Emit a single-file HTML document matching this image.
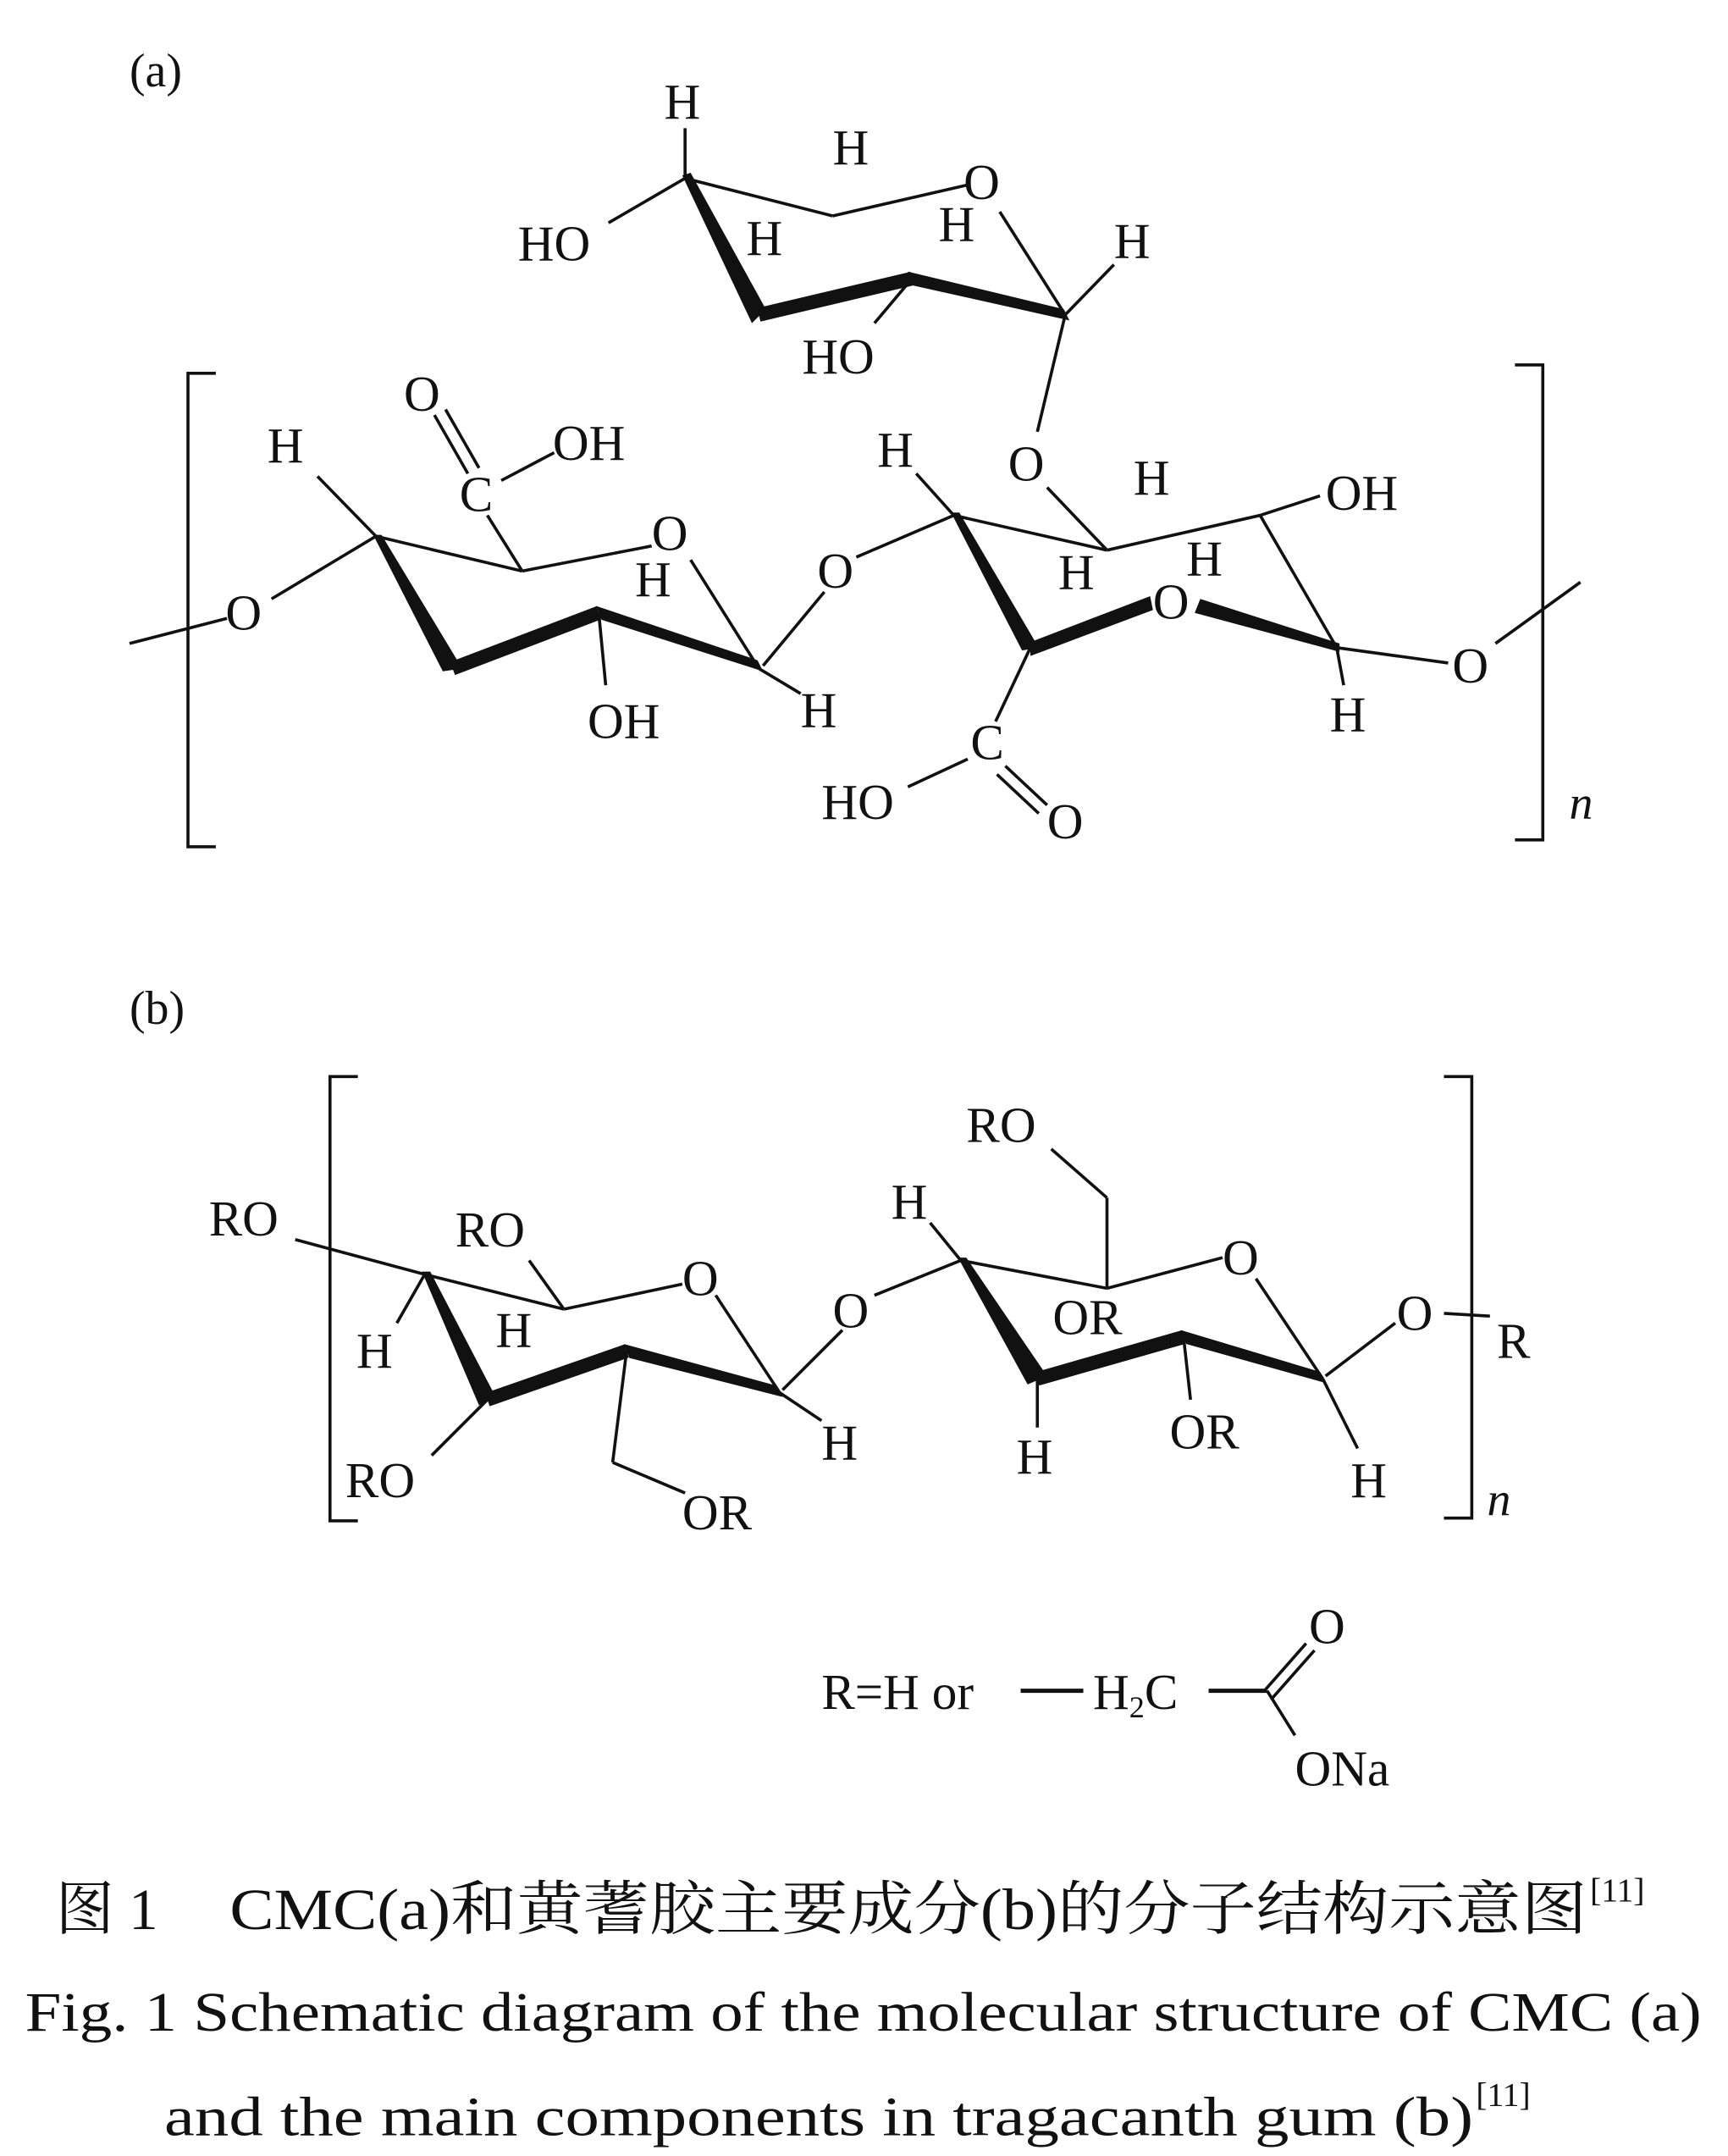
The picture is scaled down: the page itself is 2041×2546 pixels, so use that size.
<!DOCTYPE html>
<html><head><meta charset="utf-8"><style>
html,body{margin:0;padding:0;background:#fff}
svg{display:block}
text{font-family:"Liberation Serif","Noto Serif CJK SC",serif;fill:#111}
.a{font-size:36px}
line,polyline{stroke:#111;stroke-width:2.2;fill:none}
.t{stroke-width:10;stroke-linecap:butt}
</style></head><body>
<svg width="2041" height="2546" viewBox="0 0 1241 1548" xmlns="http://www.w3.org/2000/svg">
<text x="93" y="62" style="font-size:34px">(a)</text>
<!-- top ring -->
<g class="a">
<text x="477" y="85">H</text><text x="372" y="187">HO</text><text x="598" y="118">H</text>
<text x="692" y="143">O</text><text x="536" y="183">H</text><text x="674" y="173">H</text>
<text x="800" y="185">H</text><text x="576" y="268">HO</text>
</g>
<line x1="437" y1="160" x2="492" y2="128"/><line x1="492" y1="128" x2="492" y2="92"/>
<line x1="492" y1="128" x2="598" y2="155"/>
<line x1="598" y1="155" x2="694" y2="133"/>
<polygon points="490,126 496,124 550,222 540,232" fill="#111"/>
<line class="t" x1="545" y1="226" x2="655" y2="200"/>
<polygon points="652,195 656,205 768,230 764,222" fill="#111"/>
<line x1="765" y1="226" x2="718" y2="152"/>
<line x1="765" y1="226" x2="800" y2="190"/>
<line x1="765" y1="226" x2="745" y2="310"/>
<line x1="655" y1="200" x2="628" y2="232"/>
<!-- brackets (a) -->
<polyline points="155,268 135,268 135,608 155,608"/>
<polyline points="1088,262 1108,262 1108,603 1088,603"/>
<text x="1127" y="588" style="font-size:34px;font-style:italic">n</text>
<!-- left ring -->
<g class="a">
<text x="162" y="452">O</text><text x="192" y="332">H</text><text x="290" y="295">O</text>
<text x="330" y="367">C</text><text x="397" y="330">OH</text><text x="468" y="395">O</text>
<text x="456" y="428">H</text><text x="422" y="530">OH</text><text x="575" y="522">H</text>
<text x="587" y="422">O</text>
</g>
<line x1="93" y1="462" x2="163" y2="444"/>
<line x1="195" y1="430" x2="270" y2="385"/>
<line x1="270" y1="385" x2="228" y2="342"/>
<polygon points="268,384 274,384 332,480 318,482" fill="#111"/>
<line class="t" x1="325" y1="480" x2="430" y2="440"/>
<polygon points="428,435 432,445 548,482 544,474" fill="#111"/>
<line x1="545" y1="480" x2="496" y2="402"/>
<line x1="468" y1="392" x2="375" y2="410"/>
<line x1="375" y1="410" x2="270" y2="385"/>
<line x1="375" y1="410" x2="350" y2="370"/>
<line x1="360" y1="345" x2="398" y2="325"/>
<line x1="336" y1="340" x2="312" y2="298"/><line x1="344" y1="336" x2="320" y2="294"/>
<line x1="430" y1="440" x2="435" y2="492"/>
<line x1="545" y1="480" x2="575" y2="498"/>
<line x1="548" y1="478" x2="592" y2="425"/>
<line x1="615" y1="400" x2="685" y2="370"/>
<!-- right ring -->
<g class="a">
<text x="630" y="335">H</text><text x="724" y="345">O</text><text x="814" y="355">H</text>
<text x="952" y="366">OH</text><text x="760" y="423">H</text><text x="852" y="413">H</text>
<text x="828" y="444">O</text><text x="1043" y="490">O</text><text x="955" y="525">H</text>
<text x="697" y="545">C</text><text x="590" y="588">HO</text><text x="752" y="602">O</text>
</g>
<line x1="685" y1="370" x2="658" y2="340"/>
<polygon points="683,368 689,368 746,465 734,467" fill="#111"/>
<polygon points="740,461 740,471 828,438 826,428" fill="#111"/>
<polygon points="862,430 858,440 962,468 962,462" fill="#111"/>
<line x1="960" y1="465" x2="1040" y2="476"/>
<line x1="960" y1="465" x2="965" y2="492"/>
<line x1="960" y1="465" x2="905" y2="370"/>
<line x1="905" y1="370" x2="948" y2="356"/>
<line x1="905" y1="370" x2="795" y2="395"/>
<line x1="795" y1="395" x2="685" y2="370"/>
<line x1="795" y1="395" x2="752" y2="350"/>
<line x1="740" y1="465" x2="715" y2="518"/>
<line x1="695" y1="545" x2="652" y2="565"/>
<line x1="722" y1="550" x2="752" y2="578"/><line x1="716" y1="556" x2="746" y2="584"/>
<line x1="1074" y1="462" x2="1135" y2="418"/>
<!-- (b) -->
<text x="93" y="735" style="font-size:34px">(b)</text>
<polyline points="257,773 237,773 237,1092 257,1092"/>
<polyline points="1037,773 1057,773 1057,1090 1037,1090"/>
<text x="1068" y="1088" style="font-size:34px;font-style:italic">n</text>
<g class="a">
<text x="150" y="887">RO</text><text x="327" y="895">RO</text><text x="490" y="930">O</text>
<text x="256" y="982">H</text><text x="356" y="967">H</text><text x="248" y="1075">RO</text>
<text x="490" y="1098">OR</text><text x="590" y="1048">H</text><text x="598" y="953">O</text>
<text x="640" y="875">H</text><text x="694" y="820">RO</text><text x="878" y="915">O</text>
<text x="756" y="958">OR</text><text x="730" y="1058">H</text><text x="840" y="1040">OR</text>
<text x="970" y="1075">H</text><text x="1003" y="955">O</text><text x="1075" y="975">R</text>
</g>
<line x1="212" y1="890" x2="305" y2="915"/>
<line x1="305" y1="915" x2="285" y2="950"/>
<polygon points="303,913 309,913 356,1003 344,1009" fill="#111"/>
<line class="t" x1="350" y1="1005" x2="450" y2="970"/>
<polygon points="448,965 452,975 562,1003 558,995" fill="#111"/>
<line x1="560" y1="1000" x2="514" y2="930"/>
<line x1="490" y1="922" x2="405" y2="940"/>
<line x1="405" y1="940" x2="305" y2="915"/>
<line x1="405" y1="940" x2="380" y2="905"/>
<line x1="350" y1="1005" x2="310" y2="1045"/>
<line x1="450" y1="970" x2="440" y2="1050"/><line x1="440" y1="1050" x2="492" y2="1072"/>
<line x1="560" y1="1000" x2="590" y2="1020"/>
<line x1="562" y1="998" x2="605" y2="955"/>
<line x1="628" y1="930" x2="690" y2="905"/>
<line x1="690" y1="905" x2="668" y2="878"/>
<polygon points="688,903 694,903 752,988 738,994" fill="#111"/>
<line class="t" x1="745" y1="990" x2="850" y2="960"/>
<polygon points="848,955 852,965 952,993 948,985" fill="#111"/>
<line x1="950" y1="990" x2="902" y2="918"/>
<line x1="878" y1="903" x2="795" y2="925"/>
<line x1="795" y1="925" x2="690" y2="905"/>
<line x1="795" y1="925" x2="795" y2="860"/><line x1="795" y1="860" x2="755" y2="825"/>
<line x1="745" y1="990" x2="745" y2="1025"/>
<line x1="850" y1="960" x2="855" y2="1005"/>
<line x1="950" y1="990" x2="975" y2="1040"/>
<line x1="952" y1="988" x2="1002" y2="950"/>
<line x1="1037" y1="943" x2="1070" y2="945"/>
<!-- R def -->
<text x="590" y="1227" class="a">R=H or</text>
<line x1="733" y1="1214" x2="778" y2="1214" style="stroke-width:3"/>
<text x="785" y="1227" class="a">H<tspan style="font-size:22px" dy="6">2</tspan><tspan dy="-6">C</tspan></text>
<line x1="868" y1="1214" x2="910" y2="1214" style="stroke-width:3"/>
<line x1="908" y1="1214" x2="938" y2="1180"/><line x1="914" y1="1219" x2="944" y2="1185"/>
<text x="940" y="1180" class="a">O</text>
<line x1="910" y1="1214" x2="930" y2="1246"/>
<text x="930" y="1282" class="a">ONa</text>
<!-- caption -->
<text x="40" y="1385" style="font-size:42px">图 1</text>
<text x="165" y="1385" style="font-size:42px" textLength="975" lengthAdjust="spacingAndGlyphs">CMC(a)和黄蓍胶主要成分(b)的分子结构示意图</text>
<text x="1142" y="1365" style="font-size:24px">[11]</text>
<text x="18" y="1458" style="font-size:40px" textLength="1204" lengthAdjust="spacingAndGlyphs">Fig. 1   Schematic diagram of the molecular structure of CMC (a)</text>
<text x="118" y="1533" style="font-size:40px" textLength="940" lengthAdjust="spacingAndGlyphs">and the main components in tragacanth gum (b)</text>
<text x="1060" y="1512" style="font-size:24px">[11]</text>
</svg>
</body></html>
